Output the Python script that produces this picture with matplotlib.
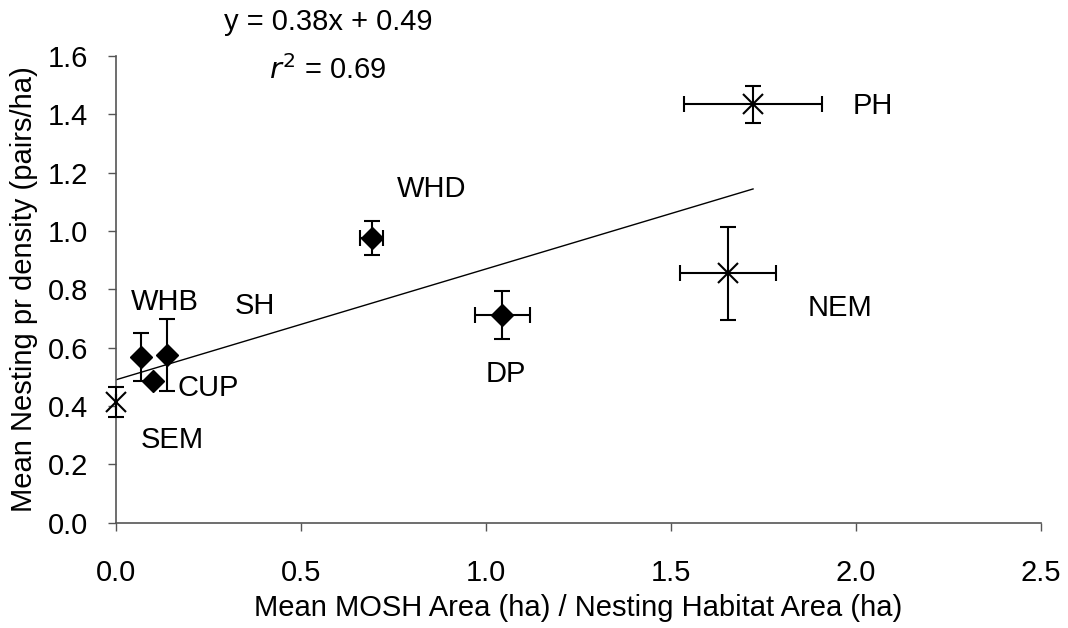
import matplotlib
matplotlib.use("Agg")
import matplotlib.pyplot as plt

plt.rcParams['font.family'] = ['Liberation Sans', 'DejaVu Sans']

# Diamond sites
dia_names = ["WHB", "SH", "CUP", "WHD", "DP"]
dia_x = [0.067, 0.137, 0.099, 0.691, 1.044]
dia_y = [0.567, 0.574, 0.486, 0.975, 0.712]
dia_xerr = [0.0, 0.0, 0.0, 0.032, 0.074]
dia_yerr = [0.082, 0.124, 0.0, 0.058, 0.082]

# Cross sites
crs_names = ["SEM", "NEM", "PH"]
crs_x = [0.0, 1.655, 1.722]
crs_y = [0.414, 0.855, 1.434]
crs_xerr = [0.0, 0.13, 0.187]
crs_yerr = [0.052, 0.16, 0.065]

# Label positions (data coords)
label_names = ["WHB", "SH", "CUP", "SEM", "WHD", "DP", "NEM", "PH"]
label_x = [0.132, 0.376, 0.249, 0.151, 0.854, 1.054, 1.957, 2.046]
label_y = [0.757, 0.743, 0.462, 0.283, 1.143, 0.510, 0.736, 1.428]

slope, intercept = 0.38, 0.49
line_x = [0.0, 1.722]

xticks = [0.0, 0.5, 1.0, 1.5, 2.0, 2.5]
yticks = [0.0, 0.2, 0.4, 0.6, 0.8, 1.0, 1.2, 1.4, 1.6]

FS = 21

fig = plt.figure(figsize=(10.68, 6.28), dpi=100)
ax = fig.add_axes([0.1086, 0.1677, 0.866, 0.743])

ax.plot(line_x, [slope * v + intercept for v in line_x], color='black', lw=1.0, zorder=2)

ax.errorbar(dia_x, dia_y, xerr=dia_xerr, yerr=dia_yerr, fmt='D', color='black',
            ms=11, ecolor='black', elinewidth=1.5, capsize=6, capthick=1.5, zorder=3,
            clip_on=False)
ax.errorbar(crs_x, crs_y, xerr=crs_xerr, yerr=crs_yerr, fmt='x', color='black',
            ms=15, mew=1.5, ecolor='black', elinewidth=1.5, capsize=6, capthick=1.5,
            zorder=3, clip_on=False)

for n, lx, ly in zip(label_names, label_x, label_y):
    ax.text(lx, ly, n, fontsize=FS, ha='center', va='center')

ax.text(0.573, 1.716, "y = 0.38x + 0.49", fontsize=FS, ha='center', va='center', clip_on=False)
ax.text(0.573, 1.552, r"$r^2$ = 0.69", fontsize=FS, ha='center', va='center', clip_on=False)

ax.set_xlim(0, 2.5)
ax.set_ylim(0, 1.6)
ax.set_xticks(xticks)
ax.set_xticklabels([f"{t:.1f}" for t in xticks])
ax.set_yticks(yticks)
ax.set_yticklabels([f"{t:.1f}" for t in yticks])
ax.tick_params(axis='both', labelsize=FS, direction='out', length=6, width=1, color='#555555')
ax.tick_params(axis='x', pad=20)
ax.tick_params(axis='y', pad=14)

ax.spines['top'].set_visible(False)
ax.spines['right'].set_visible(False)
for s in ['left', 'bottom']:
    ax.spines[s].set_color('#555555')
    ax.spines[s].set_linewidth(1.2)

ax.set_xlabel("Mean MOSH Area (ha) / Nesting Habitat Area (ha)", fontsize=FS, labelpad=5)
ax.set_ylabel("Mean Nesting pr density (pairs/ha)", fontsize=FS, labelpad=7)

fig.savefig("out.png", dpi=100)
